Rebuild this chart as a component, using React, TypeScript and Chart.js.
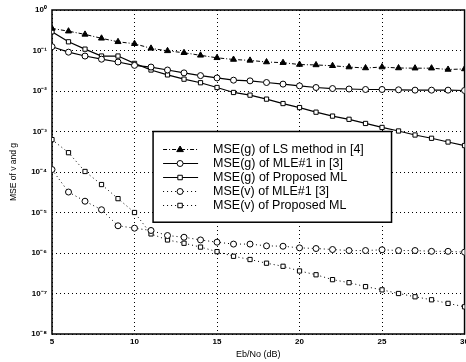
import React, { useEffect, useRef } from 'react';
import { Chart, registerables } from 'chart.js';

Chart.register(...registerables);

const snrDb = [5, 6, 7, 8, 9, 10, 11, 12, 13, 14, 15, 16, 17, 18, 19, 20, 21, 22, 23, 24, 25, 26, 27, 28, 29, 30];

const lsMethodG = [0.35, 0.30, 0.25, 0.20, 0.164, 0.147, 0.113, 0.098, 0.088, 0.076, 0.066, 0.060, 0.057, 0.052, 0.050, 0.045, 0.044, 0.042, 0.039, 0.037, 0.039, 0.037, 0.0366, 0.0366, 0.034, 0.035];
const mle1G = [0.124, 0.091, 0.073, 0.061, 0.052, 0.043, 0.039, 0.033, 0.028, 0.024, 0.021, 0.0185, 0.0178, 0.0162, 0.0148, 0.0134, 0.0122, 0.0115, 0.0112, 0.0109, 0.0109, 0.0107, 0.0105, 0.0105, 0.0105, 0.0103];
const proposedG = [0.29, 0.164, 0.108, 0.073, 0.073, 0.048, 0.033, 0.025, 0.0196, 0.016, 0.0122, 0.0092, 0.0079, 0.0063, 0.0049, 0.0039, 0.0030, 0.0024, 0.0020, 0.00158, 0.00126, 0.00103, 0.00082, 0.00068, 0.00055, 0.00045];
const mle1V = [1.15e-4, 3.2e-5, 1.9e-5, 1.17e-5, 4.7e-6, 4.1e-6, 3.6e-6, 2.7e-6, 2.45e-6, 2.1e-6, 1.85e-6, 1.66e-6, 1.66e-6, 1.5e-6, 1.47e-6, 1.34e-6, 1.29e-6, 1.22e-6, 1.15e-6, 1.15e-6, 1.2e-6, 1.15e-6, 1.15e-6, 1.1e-6, 1.1e-6, 1.05e-6];
const proposedV = [6.3e-4, 3.0e-4, 1.03e-4, 4.9e-5, 2.2e-5, 1.0e-5, 2.96e-6, 2.1e-6, 1.74e-6, 1.4e-6, 1.08e-6, 8.3e-7, 6.9e-7, 5.6e-7, 4.7e-7, 3.6e-7, 2.9e-7, 2.2e-7, 1.85e-7, 1.48e-7, 1.23e-7, 1.0e-7, 8.3e-8, 7.0e-8, 5.7e-8, 4.7e-8];

const seriesLabels = [
  'MSE(g) of LS method in [4]',
  'MSE(g) of MLE#1 in [3]',
  'MSE(g) of Proposed ML',
  'MSE(v) of MLE#1 [3]',
  'MSE(v) of Proposed ML',
];

const xTickValues = [5, 10, 15, 20, 25, 30];
const yTickExponents = [0, -1, -2, -3, -4, -5, -6, -7, -8];

const xTitle = 'Eb/No (dB)';
const yTitle = 'MSE of v and g';

const SUP: Record<string, string> = {
  '0': '\u2070', '1': '\u00b9', '2': '\u00b2', '3': '\u00b3', '4': '\u2074',
  '5': '\u2075', '6': '\u2076', '7': '\u2077', '8': '\u2078', '9': '\u2079', '-': '\u207b',
};
const sup = (s: string) => s.split('').map((c) => SUP[c] ?? c).join('');

const FONT = '"Liberation Sans", Arial, Helvetica, sans-serif';

function pts(values: number[]) {
  return values.map((v, i) => ({ x: snrDb[i], y: v }));
}

function drawMarker(ctx: CanvasRenderingContext2D, style: string, x: number, y: number, r: number, filled: boolean) {
  ctx.beginPath();
  if (style === 'triangle') {
    ctx.moveTo(x, y - r);
    ctx.lineTo(x + r * 0.95, y + r * 0.6);
    ctx.lineTo(x - r * 0.95, y + r * 0.6);
    ctx.closePath();
  } else if (style === 'rect') {
    ctx.rect(x - r * 0.75, y - r * 0.75, r * 1.5, r * 1.5);
  } else {
    ctx.arc(x, y, r, 0, Math.PI * 2);
  }
  ctx.fillStyle = filled ? '#000' : '#fff';
  ctx.fill();
  ctx.stroke();
}

const framePlugin = {
  id: 'frame',
  beforeDatasetsDraw(chart: any) {
    const { ctx, chartArea: a } = chart;
    ctx.save();
    ctx.strokeStyle = '#000';
    ctx.lineWidth = 1.5;
    ctx.setLineDash([]);
    ctx.strokeRect(a.left, a.top, a.right - a.left, a.bottom - a.top);
    ctx.restore();
  },
};

const legendPlugin = {
  id: 'customLegend',
  afterDraw(chart: any) {
    const { ctx, chartArea: a } = chart;
    const w = a.right - a.left;
    const h = a.bottom - a.top;
    const x0 = a.left + w * 0.245;
    const y0 = a.top + h * 0.375;
    const bw = w * 0.578;
    const bh = h * 0.28;
    ctx.save();
    ctx.fillStyle = '#fff';
    ctx.fillRect(x0, y0, bw, bh);
    ctx.strokeStyle = '#000';
    ctx.lineWidth = 1.5;
    ctx.setLineDash([]);
    ctx.strokeRect(x0, y0, bw, bh);
    ctx.font = `12.5px ${FONT}`;
    ctx.textBaseline = 'middle';
    chart.data.datasets.forEach((ds: any, i: number) => {
      const y = y0 + 18 + i * 14;
      ctx.strokeStyle = '#000';
      ctx.lineWidth = ds.borderWidth;
      ctx.setLineDash(ds.borderDash || []);
      ctx.beginPath();
      ctx.moveTo(x0 + 10, y);
      ctx.lineTo(x0 + 45, y);
      ctx.stroke();
      ctx.setLineDash([]);
      ctx.lineWidth = 1;
      drawMarker(ctx, ds.pointStyle, x0 + 27, y, ds.pointRadius, ds.pointBackgroundColor === '#000');
      ctx.fillStyle = '#000';
      ctx.fillText(ds.label, x0 + 60, y + 0.5);
    });
    ctx.restore();
  },
};

export default function App() {
  const canvasRef = useRef<HTMLCanvasElement | null>(null);

  useEffect(() => {
    if (!canvasRef.current) return;
    const common = {
      borderColor: '#000',
      pointBorderColor: '#000',
      pointBorderWidth: 1,
      pointHoverRadius: 3,
      tension: 0,
      fill: false,
    };
    const chart = new Chart(canvasRef.current, {
      type: 'line',
      data: {
        datasets: [
          { ...common, label: seriesLabels[0], data: pts(lsMethodG), borderWidth: 1, borderDash: [4, 2, 1, 2], pointStyle: 'triangle', pointRadius: 3.5, pointBackgroundColor: '#000' },
          { ...common, label: seriesLabels[1], data: pts(mle1G), borderWidth: 1.2, borderDash: [], pointStyle: 'circle', pointRadius: 3, pointBackgroundColor: '#fff' },
          { ...common, label: seriesLabels[2], data: pts(proposedG), borderWidth: 1.2, borderDash: [], pointStyle: 'rect', pointRadius: 3, pointBackgroundColor: '#fff' },
          { ...common, label: seriesLabels[3], data: pts(mle1V), borderWidth: 1, borderDash: [1, 3], pointStyle: 'circle', pointRadius: 3, pointBackgroundColor: '#fff' },
          { ...common, label: seriesLabels[4], data: pts(proposedV), borderWidth: 1, borderDash: [1, 3], pointStyle: 'rect', pointRadius: 3, pointBackgroundColor: '#fff' },
        ] as any,
      },
      options: {
        animation: false,
        responsive: false,
        devicePixelRatio: 1,
        layout: { padding: { left: 0, right: 2, top: 10, bottom: 0 } },
        plugins: { legend: { display: false }, tooltip: { enabled: false } },
        scales: {
          x: {
            type: 'linear',
            min: 5,
            max: 30,
            afterBuildTicks: (s: any) => { s.ticks = xTickValues.map((v) => ({ value: v })); },
            afterFit: (s: any) => { s.height = 28; },
            ticks: { color: '#000', padding: 3, font: { family: FONT, size: 8, weight: 'bold' }, maxRotation: 0, autoSkip: false },
            grid: { color: '#000', lineWidth: 1, drawTicks: false },
            border: { display: false, dash: [1, 3] },
            title: { display: true, text: xTitle, color: '#000', font: { family: FONT, size: 9 }, padding: { top: 0, bottom: 2 } },
          },
          y: {
            type: 'logarithmic',
            min: 1e-8,
            max: 1,
            afterBuildTicks: (s: any) => { s.ticks = yTickExponents.map((e) => ({ value: Math.pow(10, e) })); },
            afterFit: (s: any) => { s.width = 52; s.paddingTop = 0; s.paddingBottom = 0; },
            ticks: {
              color: '#000',
              padding: 5,
              font: { family: FONT, size: 8, weight: 'bold' },
              autoSkip: false,
              callback: (v: any) => '10' + sup(String(Math.round(Math.log10(Number(v))))),
            },
            grid: { color: '#000', lineWidth: 1, drawTicks: false },
            border: { display: false, dash: [1, 3] },
            title: { display: true, text: yTitle, color: '#000', font: { family: FONT, size: 8.5 }, padding: { top: 9, bottom: 0 } },
          },
        },
      } as any,
      plugins: [framePlugin, legendPlugin],
    });
    return () => chart.destroy();
  }, []);

  return (
    <div style={{ position: 'absolute', left: 0, top: 0, width: 466, height: 362, overflow: 'hidden', background: '#fff' }}>
      <canvas ref={canvasRef} width={472} height={362} style={{ display: 'block' }} />
    </div>
  );
}
